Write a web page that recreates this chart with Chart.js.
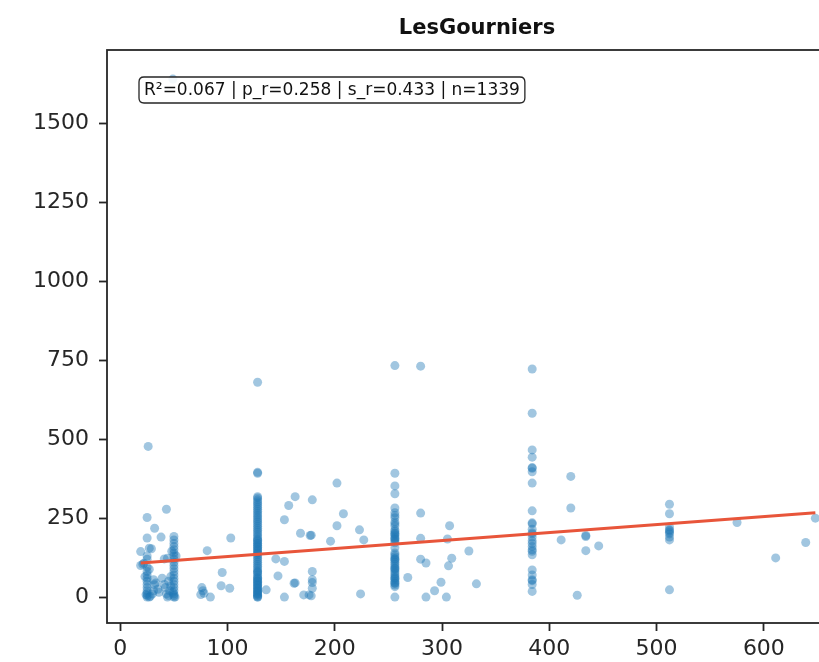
<!DOCTYPE html>
<html><head><meta charset="utf-8">
<script src="https://cdn.jsdelivr.net/npm/chart.js@4.4.1/dist/chart.umd.min.js"></script>
<style>
html,body{margin:0;padding:0;overflow:hidden;background:#fff;width:819px;height:662px}
#wrap{position:absolute;left:0;top:0;width:860px;height:662px}
</style></head><body><div id="wrap"><canvas id="c" width="860" height="662"></canvas></div>
<script>
const chartTitle = 'LesGourniers';
const statsText = 'R\u00b2=0.067 | p_r=0.258 | s_r=0.433 | n=1339';
const xTicks = [0, 100, 200, 300, 400, 500, 600];
const yTicks = [0, 250, 500, 750, 1000, 1250, 1500];

// regression line endpoints
const lineX = [19, 648];
const lineY = [108, 267];

// left cluster (x ~ 19-52)
const leftX = [26,43,25,32,25,38,50,50,19,29,27,22,19,41,44,25,25,25,25,25,25,25,25,25,25,25,25,25,27,24,28,33,32,31,35,39,41,42,43,44,45,46,45,47,50,50,50,50,50,50,50,50,50,50,50,50,50,50,50,50,50,50,50,51,49,52,48,49,31,21,23,27,30,36,47];
const leftY = [477,278,252,218,187,190,192,181,144,153,155,107,100,121,123,130,120,95,81,70,60,50,40,30,20,12,5,0,0,8,3,45,39,20,25,60,40,30,10,0,5,20,50,65,170,160,150,140,130,120,110,100,90,80,70,60,50,40,30,20,10,5,0,0,15,130,145,1640,55,104,65,88,10,15,35];

// between 75 and 105
const midLX = [81,103,95,94,102,76,77,78,75,84];
const midLY = [147,187,78,36,28,30,20,12,8,0];

// column at 128
const col128Y = [0,3,6,10,14,18,22,27,32,37,42,47,52,57,62,68,74,80,86,92,98,104,110,116,122,128,134,140,146,152,158,164,170,176,182,188,194,200,206,212,218,224,230,236,242,248,254,260,266,272,278,284,290,296,302,308,314,318,392,395,680,140,150,160,170,180,20,40,60,80,0,10,30,50];

// between 130 and 230
const mid2X = [136,145,153,153,157,163,179,168,177,178,196,202,208,202,223,227,224,179,179,179,179,162,163,171,176,178,153,147];
const mid2Y = [23,121,113,245,290,318,308,202,195,196,177,361,264,226,213,181,10,81,55,46,28,44,45,7,7,4,0,67];

// column at 256
const col256Y = [0,33,38,44,50,56,62,68,74,80,86,92,98,104,110,116,122,128,134,140,156,172,178,184,190,196,202,208,213,225,232,238,251,258,267,282,327,352,392,733,60,90,120,185,200,45];

// between 260 and 340
const mid3X = [280,268,280,307,280,305,325,309,280,285,306,299,332,293,285,304];
const mid3Y = [731,62,266,226,186,184,146,123,120,108,99,47,42,20,0,0];

// column at 384
const col384Y = [722,582,466,443,410,408,397,361,273,235,232,215,204,200,190,178,170,160,150,145,134,86,70,55,52,40,18];

// between 400 and 450
const mid4X = [420,420,411,434,434,434,446,426];
const mid4Y = [382,282,181,192,195,147,162,6];

// column at 512
const col512Y = [294,264,222,213,210,205,200,190,181,23];

// right side
const rightX = [575,611,639,648];
const rightY = [236,124,173,250];

const pts = [];
function addXY(xs, ys){ ys.forEach((y,i)=>pts.push({x:xs[i], y})); }
function addCol(x, ys){ ys.forEach(y=>pts.push({x, y})); }
addXY(leftX, leftY);
addXY(midLX, midLY);
addCol(128, col128Y);
addXY(mid2X, mid2Y);
addCol(256, col256Y);
addXY(mid3X, mid3Y);
addCol(384, col384Y);
addXY(mid4X, mid4Y);
addCol(512, col512Y);
addXY(rightX, rightY);

const INK = '#262626';
const FONT = '"DejaVu Sans", "Liberation Sans", sans-serif';

const decor = {
  id: 'decor',
  afterDatasetsDraw(chart) {
    const ctx = chart.ctx, a = chart.chartArea;
    ctx.save();
    // frame
    ctx.strokeStyle = INK; ctx.lineWidth = 1.8;
    ctx.strokeRect(a.left, a.top, a.right - a.left, a.bottom - a.top);
    // stats box
    ctx.font = '17px ' + FONT;
    const tw = ctx.measureText(statsText).width;
    const padX = 5, bx = 139, by = 77, bh = 26, bw = tw + 2 * padX, r = 5;
    ctx.beginPath();
    ctx.moveTo(bx + r, by);
    ctx.lineTo(bx + bw - r, by); ctx.quadraticCurveTo(bx + bw, by, bx + bw, by + r);
    ctx.lineTo(bx + bw, by + bh - r); ctx.quadraticCurveTo(bx + bw, by + bh, bx + bw - r, by + bh);
    ctx.lineTo(bx + r, by + bh); ctx.quadraticCurveTo(bx, by + bh, bx, by + bh - r);
    ctx.lineTo(bx, by + r); ctx.quadraticCurveTo(bx, by, bx + r, by);
    ctx.closePath();
    ctx.fillStyle = 'rgba(255,255,255,0.88)'; ctx.fill();
    ctx.lineWidth = 1.3; ctx.strokeStyle = INK; ctx.stroke();
    ctx.fillStyle = '#111'; ctx.textAlign = 'left'; ctx.textBaseline = 'middle';
    ctx.fillText(statsText, bx + padX, by + bh / 2 + 1);
    // title
    ctx.font = 'bold 21px ' + FONT;
    ctx.textAlign = 'center';
    ctx.fillText(chartTitle, (a.left + a.right) / 2, 29);
    ctx.restore();
  }
};

new Chart(document.getElementById('c'), {
  type: 'scatter',
  data: {
    datasets: [
      { type: 'line', data: lineX.map((x, i) => ({ x, y: lineY[i] })), borderColor: '#e8553a', borderWidth: 3, pointRadius: 0, fill: false, order: 0 },
      { type: 'scatter', data: pts, backgroundColor: 'rgba(31,119,180,0.42)', borderWidth: 0, pointRadius: 4.5, order: 1 }
    ]
  },
  options: {
    responsive: false, animation: false, devicePixelRatio: 1,
    layout: { padding: { top: 50, right: 13, left: 0, bottom: 0 } },
    plugins: { legend: { display: false }, tooltip: { enabled: false }, title: { display: false } },
    scales: {
      x: {
        type: 'linear', min: -12.4, max: 677.5,
        afterBuildTicks: s => { s.ticks = xTicks.map(v => ({ value: v })); },
        afterFit: s => { s.height = 39; },
        ticks: { font: { family: FONT, size: 22 }, color: INK, padding: 5, autoSkip: false, maxRotation: 0, callback: v => String(v) },
        grid: { display: true, drawOnChartArea: false, drawTicks: true, tickLength: 8, tickColor: INK, tickWidth: 1.8 },
        border: { display: false }
      },
      y: {
        type: 'linear', min: -82, max: 1732,
        afterBuildTicks: s => { s.ticks = yTicks.map(v => ({ value: v })); },
        afterFit: s => { s.width = 107; },
        ticks: { font: { family: FONT, size: 22 }, color: INK, padding: 10, autoSkip: false, callback: v => String(v) },
        grid: { display: true, drawOnChartArea: false, drawTicks: true, tickLength: 8, tickColor: INK, tickWidth: 1.8 },
        border: { display: false }
      }
    }
  },
  plugins: [decor]
});
</script></body></html>
